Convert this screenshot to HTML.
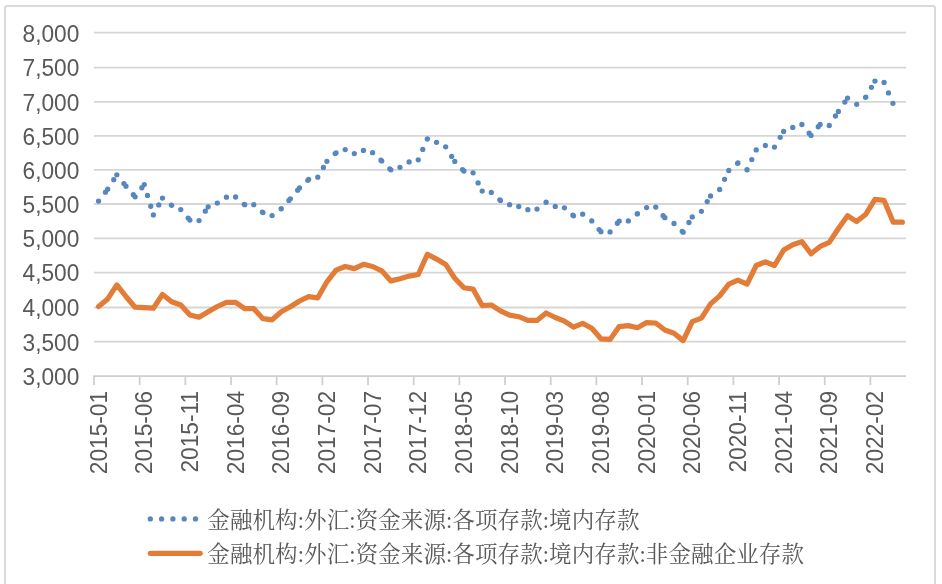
<!DOCTYPE html>
<html><head><meta charset="utf-8"><style>
html,body{margin:0;padding:0;background:#fff;}
body{width:942px;height:584px;overflow:hidden;position:relative;}
.frame{position:absolute;left:4px;top:5px;width:932px;height:600px;border:2px solid #dadada;border-bottom:none;border-radius:3px;box-sizing:border-box;}
svg{position:absolute;left:0;top:0;will-change:transform;}
.ax{font-family:"Liberation Sans",Arial,sans-serif;font-size:22.7px;fill:#595959;}
.lg{font-family:"Liberation Serif","Noto Serif CJK SC",serif;font-size:22.5px;letter-spacing:0.1px;fill:#595959;}
</style></head><body>
<div class="frame"></div>
<svg width="942" height="584" viewBox="0 0 942 584">
<line x1="94.0" y1="32.70" x2="906.0" y2="32.70" stroke="#d6d6d6" stroke-width="1.8"/>
<line x1="94.0" y1="67.60" x2="906.0" y2="67.60" stroke="#d6d6d6" stroke-width="1.8"/>
<line x1="94.0" y1="101.80" x2="906.0" y2="101.80" stroke="#d6d6d6" stroke-width="1.8"/>
<line x1="94.0" y1="135.90" x2="906.0" y2="135.90" stroke="#d6d6d6" stroke-width="1.8"/>
<line x1="94.0" y1="169.90" x2="906.0" y2="169.90" stroke="#d6d6d6" stroke-width="1.8"/>
<line x1="94.0" y1="204.00" x2="906.0" y2="204.00" stroke="#d6d6d6" stroke-width="1.8"/>
<line x1="94.0" y1="238.30" x2="906.0" y2="238.30" stroke="#d6d6d6" stroke-width="1.8"/>
<line x1="94.0" y1="272.60" x2="906.0" y2="272.60" stroke="#d6d6d6" stroke-width="1.8"/>
<line x1="94.0" y1="307.50" x2="906.0" y2="307.50" stroke="#d6d6d6" stroke-width="1.8"/>
<line x1="94.0" y1="341.70" x2="906.0" y2="341.70" stroke="#d6d6d6" stroke-width="1.8"/>
<line x1="93.1" y1="376.10" x2="906.0" y2="376.10" stroke="#cfcfcf" stroke-width="1.8"/>
<line x1="94.00" y1="376.10" x2="94.00" y2="385.10" stroke="#cfcfcf" stroke-width="1.8"/>
<line x1="139.67" y1="376.10" x2="139.67" y2="385.10" stroke="#cfcfcf" stroke-width="1.8"/>
<line x1="185.34" y1="376.10" x2="185.34" y2="385.10" stroke="#cfcfcf" stroke-width="1.8"/>
<line x1="231.01" y1="376.10" x2="231.01" y2="385.10" stroke="#cfcfcf" stroke-width="1.8"/>
<line x1="276.68" y1="376.10" x2="276.68" y2="385.10" stroke="#cfcfcf" stroke-width="1.8"/>
<line x1="322.35" y1="376.10" x2="322.35" y2="385.10" stroke="#cfcfcf" stroke-width="1.8"/>
<line x1="368.02" y1="376.10" x2="368.02" y2="385.10" stroke="#cfcfcf" stroke-width="1.8"/>
<line x1="413.69" y1="376.10" x2="413.69" y2="385.10" stroke="#cfcfcf" stroke-width="1.8"/>
<line x1="459.36" y1="376.10" x2="459.36" y2="385.10" stroke="#cfcfcf" stroke-width="1.8"/>
<line x1="505.03" y1="376.10" x2="505.03" y2="385.10" stroke="#cfcfcf" stroke-width="1.8"/>
<line x1="550.70" y1="376.10" x2="550.70" y2="385.10" stroke="#cfcfcf" stroke-width="1.8"/>
<line x1="596.37" y1="376.10" x2="596.37" y2="385.10" stroke="#cfcfcf" stroke-width="1.8"/>
<line x1="642.04" y1="376.10" x2="642.04" y2="385.10" stroke="#cfcfcf" stroke-width="1.8"/>
<line x1="687.71" y1="376.10" x2="687.71" y2="385.10" stroke="#cfcfcf" stroke-width="1.8"/>
<line x1="733.38" y1="376.10" x2="733.38" y2="385.10" stroke="#cfcfcf" stroke-width="1.8"/>
<line x1="779.05" y1="376.10" x2="779.05" y2="385.10" stroke="#cfcfcf" stroke-width="1.8"/>
<line x1="824.72" y1="376.10" x2="824.72" y2="385.10" stroke="#cfcfcf" stroke-width="1.8"/>
<line x1="870.39" y1="376.10" x2="870.39" y2="385.10" stroke="#cfcfcf" stroke-width="1.8"/>
<text transform="translate(79.3,41.50) scale(1,1.03)" text-anchor="end" class="ax">8,000</text>
<text transform="translate(79.3,76.40) scale(1,1.03)" text-anchor="end" class="ax">7,500</text>
<text transform="translate(79.3,110.60) scale(1,1.03)" text-anchor="end" class="ax">7,000</text>
<text transform="translate(79.3,144.70) scale(1,1.03)" text-anchor="end" class="ax">6,500</text>
<text transform="translate(79.3,178.70) scale(1,1.03)" text-anchor="end" class="ax">6,000</text>
<text transform="translate(79.3,212.80) scale(1,1.03)" text-anchor="end" class="ax">5,500</text>
<text transform="translate(79.3,247.10) scale(1,1.03)" text-anchor="end" class="ax">5,000</text>
<text transform="translate(79.3,281.40) scale(1,1.03)" text-anchor="end" class="ax">4,500</text>
<text transform="translate(79.3,316.30) scale(1,1.03)" text-anchor="end" class="ax">4,000</text>
<text transform="translate(79.3,350.50) scale(1,1.03)" text-anchor="end" class="ax">3,500</text>
<text transform="translate(79.3,384.90) scale(1,1.03)" text-anchor="end" class="ax">3,000</text>
<text transform="translate(106.77,390.9) rotate(-90) scale(1,1.03)" text-anchor="end" class="ax">2015-01</text>
<text transform="translate(152.44,390.9) rotate(-90) scale(1,1.03)" text-anchor="end" class="ax">2015-06</text>
<text transform="translate(198.11,390.9) rotate(-90) scale(1,1.03)" text-anchor="end" class="ax">2015-11</text>
<text transform="translate(243.78,390.9) rotate(-90) scale(1,1.03)" text-anchor="end" class="ax">2016-04</text>
<text transform="translate(289.45,390.9) rotate(-90) scale(1,1.03)" text-anchor="end" class="ax">2016-09</text>
<text transform="translate(335.12,390.9) rotate(-90) scale(1,1.03)" text-anchor="end" class="ax">2017-02</text>
<text transform="translate(380.79,390.9) rotate(-90) scale(1,1.03)" text-anchor="end" class="ax">2017-07</text>
<text transform="translate(426.46,390.9) rotate(-90) scale(1,1.03)" text-anchor="end" class="ax">2017-12</text>
<text transform="translate(472.13,390.9) rotate(-90) scale(1,1.03)" text-anchor="end" class="ax">2018-05</text>
<text transform="translate(517.80,390.9) rotate(-90) scale(1,1.03)" text-anchor="end" class="ax">2018-10</text>
<text transform="translate(563.47,390.9) rotate(-90) scale(1,1.03)" text-anchor="end" class="ax">2019-03</text>
<text transform="translate(609.14,390.9) rotate(-90) scale(1,1.03)" text-anchor="end" class="ax">2019-08</text>
<text transform="translate(654.81,390.9) rotate(-90) scale(1,1.03)" text-anchor="end" class="ax">2020-01</text>
<text transform="translate(700.48,390.9) rotate(-90) scale(1,1.03)" text-anchor="end" class="ax">2020-06</text>
<text transform="translate(746.15,390.9) rotate(-90) scale(1,1.03)" text-anchor="end" class="ax">2020-11</text>
<text transform="translate(791.82,390.9) rotate(-90) scale(1,1.03)" text-anchor="end" class="ax">2021-04</text>
<text transform="translate(837.49,390.9) rotate(-90) scale(1,1.03)" text-anchor="end" class="ax">2021-09</text>
<text transform="translate(883.16,390.9) rotate(-90) scale(1,1.03)" text-anchor="end" class="ax">2022-02</text>
<polyline points="98.57,306.60 107.70,298.90 116.84,284.90 125.97,296.50 135.10,307.20 144.24,307.70 153.37,308.20 162.50,294.40 171.64,301.80 180.77,305.00 189.91,315.00 199.04,317.20 208.18,311.80 217.31,306.50 226.44,302.30 235.58,302.30 244.71,308.70 253.84,308.70 262.98,318.70 272.11,319.80 281.25,311.80 290.38,306.80 299.51,301.00 308.65,296.70 317.78,297.80 326.92,281.80 336.05,270.20 345.19,266.50 354.32,268.60 363.45,264.30 372.59,266.50 381.72,270.80 390.86,280.90 399.99,278.70 409.12,276.10 418.26,274.50 427.39,254.30 436.53,259.10 445.66,264.40 454.79,278.20 463.93,287.80 473.06,289.10 482.19,305.60 491.33,305.00 500.46,310.90 509.60,315.10 518.73,316.70 527.87,320.40 537.00,320.40 546.13,313.00 555.27,317.50 564.40,321.20 573.54,327.20 582.67,323.40 591.80,328.20 600.94,338.80 610.07,339.40 619.21,326.60 628.34,325.60 637.47,327.70 646.61,322.60 655.74,323.00 664.88,330.00 674.01,333.30 683.14,340.60 692.28,321.60 701.41,318.10 710.55,303.90 719.68,295.90 728.81,284.20 737.95,280.20 747.08,284.10 756.22,265.50 765.35,261.80 774.48,265.50 783.62,250.10 792.75,244.80 801.88,241.60 811.02,253.80 820.15,246.40 829.29,242.40 838.42,228.50 847.56,215.80 856.69,221.60 865.82,214.20 874.96,199.30 884.09,200.40 893.23,222.20 902.36,222.20" fill="none" stroke="#e27c36" stroke-width="5.2" stroke-linejoin="round" stroke-linecap="round"/>
<path d="M98.57 201.10L107.70 189.20M107.70 189.20L116.84 174.80M116.84 174.80L125.97 186.20M125.97 186.20L135.10 196.80M135.10 196.80L144.24 184.60M144.24 184.60L153.37 214.90M153.37 214.90L162.50 198.10M162.50 198.10L171.64 205.30M171.64 205.30L180.77 209.60M180.77 209.60L189.91 220.10M189.91 220.10L199.04 220.60M199.04 220.60L208.18 206.80M208.18 206.80L217.31 203.10M217.31 203.10L226.44 197.20M226.44 197.20L235.58 197.00M235.58 197.00L244.71 204.70M244.71 204.70L253.84 204.70M253.84 204.70L262.98 212.60M262.98 212.60L272.11 215.60M272.11 215.60L281.25 208.70M281.25 208.70L290.38 198.80M290.38 198.80L299.51 188.00M299.51 188.00L308.65 179.50M308.65 179.50L317.78 177.20M317.78 177.20L326.92 161.30M326.92 161.30L336.05 152.80M336.05 152.80L345.19 149.60M345.19 149.60L354.32 153.60M354.32 153.60L363.45 150.40M363.45 150.40L372.59 152.70M372.59 152.70L381.72 160.90M381.72 160.90L390.86 169.80M390.86 169.80L399.99 167.30M399.99 167.30L409.12 161.90M409.12 161.90L418.26 159.80M418.26 159.80L427.39 138.80M427.39 138.80L436.53 142.30M436.53 142.30L445.66 146.80M445.66 146.80L454.79 161.40M454.79 161.40L463.93 171.00M463.93 171.00L473.06 172.80M473.06 172.80L482.19 191.10M482.19 191.10L491.33 192.40M491.33 192.40L500.46 200.40M500.46 200.40L509.60 204.70M509.60 204.70L518.73 206.50M518.73 206.50L527.87 209.70M527.87 209.70L537.00 209.10M537.00 209.10L546.13 202.20M546.13 202.20L555.27 206.40M555.27 206.40L564.40 207.80M564.40 207.80L573.54 215.80M573.54 215.80L582.67 214.20M582.67 214.20L591.80 220.90M591.80 220.90L600.94 231.70M600.94 231.70L610.07 231.90M610.07 231.90L619.21 221.10M619.21 221.10L628.34 220.90M628.34 220.90L637.47 213.70M637.47 213.70L646.61 207.60M646.61 207.60L655.74 207.10M655.74 207.10L664.88 217.70M664.88 217.70L674.01 223.50M674.01 223.50L683.14 232.20M683.14 232.20L692.28 216.90M692.28 216.90L701.41 211.30M701.41 211.30L710.55 196.00M710.55 196.00L719.68 189.50M719.68 189.50L728.81 170.50M728.81 170.50L737.95 163.00M737.95 163.00L747.08 169.80M747.08 169.80L756.22 149.90M756.22 149.90L765.35 145.50M765.35 145.50L774.48 147.10M774.48 147.10L783.62 131.50M783.62 131.50L792.75 127.40M792.75 127.40L801.88 124.50M801.88 124.50L811.02 135.40M811.02 135.40L820.15 124.50M820.15 124.50L829.29 125.50M829.29 125.50L838.42 111.40M838.42 111.40L847.56 98.10M847.56 98.10L856.69 104.30M856.69 104.30L865.82 97.10M865.82 97.10L874.96 81.10M874.96 81.10L884.09 82.50M884.09 82.50L893.23 104.10" fill="none" stroke="#5787bf" stroke-width="5.3" stroke-linecap="round" stroke-dasharray="0 11.3"/>
<line x1="150.3" y1="518.9" x2="200.2" y2="518.9" stroke="#5787bf" stroke-width="5.3" stroke-linecap="round" stroke-dasharray="0 11.3"/>
<line x1="150.3" y1="553.3" x2="200.2" y2="553.3" stroke="#e27c36" stroke-width="5.2" stroke-linecap="round"/>
<text x="207.3" y="527.5" class="lg">金融机构:外汇:资金来源:各项存款:境内存款</text>
<text x="207.3" y="561.5" class="lg">金融机构:外汇:资金来源:各项存款:境内存款:非金融企业存款</text>
</svg>
</body></html>
